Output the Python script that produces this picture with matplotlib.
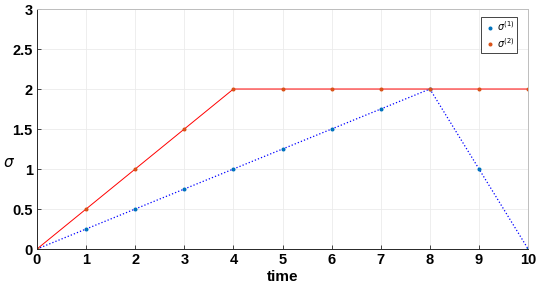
import matplotlib
matplotlib.use("Agg")
import matplotlib.pyplot as plt

time = [0, 1, 2, 3, 4, 5, 6, 7, 8, 9, 10]
sigma1 = [0, 0.25, 0.5, 0.75, 1.0, 1.25, 1.5, 1.75, 2.0, 1.0, 0.0]
sigma2 = [0, 0.5, 1.0, 1.5, 2.0, 2.0, 2.0, 2.0, 2.0, 2.0, 2.0]
xticks = [0, 1, 2, 3, 4, 5, 6, 7, 8, 9, 10]
yticks = [0, 0.5, 1, 1.5, 2, 2.5, 3]
yticklabels = ["0", "0.5", "1", "1.5", "2", "2.5", "3"]

plt.rcParams["font.family"] = ["Liberation Sans", "DejaVu Sans"]

fig = plt.figure(figsize=(5.4, 2.87), dpi=100)
ax = fig.add_axes([0.0685, 0.1324, 0.9095, 0.8362])

ax.plot(time, sigma1, color="#0000ff", linestyle=":", linewidth=0.9)
ax.plot(time, sigma2, color="#ff0000", linestyle="-", linewidth=0.7)
ax.plot(time, sigma1, linestyle="none", marker="o", markersize=1.9,
        color="#0072bd", label=r"$\sigma^{(1)}$")
ax.plot(time, sigma2, linestyle="none", marker="o", markersize=1.9,
        color="#d95319", label=r"$\sigma^{(2)}$")

ax.set_xlim(0, 10)
ax.set_ylim(0, 3)
ax.set_xticks(xticks)
ax.set_yticks(yticks)
ax.set_yticklabels(yticklabels)
ax.grid(True, color="#ebebeb", linewidth=0.6)
ax.set_axisbelow(True)
ax.tick_params(direction="in", length=3, width=0.6, color="#262626",
               labelsize=10.5, pad=3)
for lab in ax.get_xticklabels() + ax.get_yticklabels():
    lab.set_fontweight("bold")
for s in ax.spines.values():
    s.set_color("#bdbdbd")
    s.set_linewidth(0.7)
ax.spines["bottom"].set_color("#262626")
ax.spines["left"].set_color("#262626")

ax.set_xlabel("time", fontsize=11, fontweight="bold", labelpad=2)
ax.set_ylabel(r"$\sigma$", fontsize=11, rotation=0, va="center", ha="center")
ax.yaxis.set_label_coords(-0.057, 0.36)

leg = ax.legend(loc="upper right", fontsize=7, handletextpad=0.1,
                handlelength=1.2, borderpad=0.3, labelspacing=0.25,
                fancybox=False, framealpha=1, bbox_to_anchor=(0.988, 0.988))
leg.get_frame().set_edgecolor("#262626")
leg.get_frame().set_linewidth(0.6)

fig.savefig("out.png", dpi=100)
